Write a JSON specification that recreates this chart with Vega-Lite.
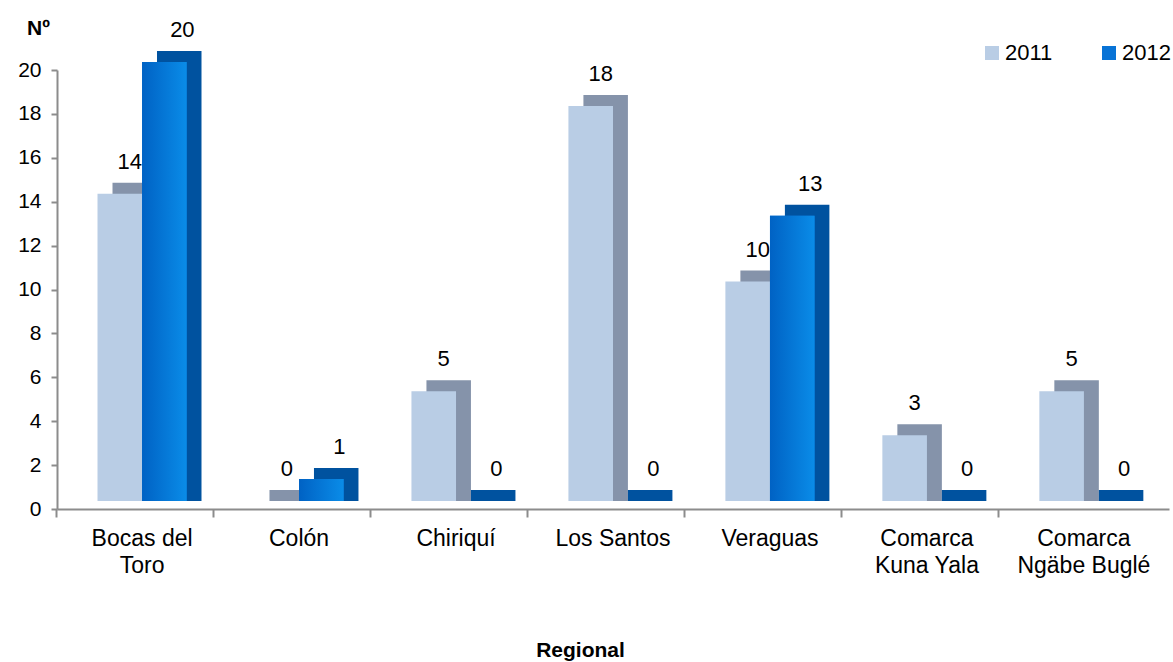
{
  "$schema": "https://vega.github.io/schema/vega-lite/v6.json",
  "autosize": {"type": "none"},
  "width": 1112,
  "height": 439,
  "padding": {"left": 57, "top": 70, "right": 4, "bottom": 153},
  "background": "white",
  "config": {
    "font": "Liberation Sans",
    "view": {"stroke": null}
  },
  "data": {
    "values": [
      {"region": "Bocas del Toro", "year": "2011", "value": 14},
      {"region": "Bocas del Toro", "year": "2012", "value": 20},
      {"region": "Colón", "year": "2011", "value": 0},
      {"region": "Colón", "year": "2012", "value": 1},
      {"region": "Chiriquí", "year": "2011", "value": 5},
      {"region": "Chiriquí", "year": "2012", "value": 0},
      {"region": "Los Santos", "year": "2011", "value": 18},
      {"region": "Los Santos", "year": "2012", "value": 0},
      {"region": "Veraguas", "year": "2011", "value": 10},
      {"region": "Veraguas", "year": "2012", "value": 13},
      {"region": "Comarca Kuna Yala", "year": "2011", "value": 3},
      {"region": "Comarca Kuna Yala", "year": "2012", "value": 0},
      {"region": "Comarca Ngäbe Buglé", "year": "2011", "value": 5},
      {"region": "Comarca Ngäbe Buglé", "year": "2012", "value": 0}
    ]
  },
  "resolve": {"scale": {"xOffset": "independent"}},
  "encoding": {
    "x": {
      "field": "region",
      "type": "nominal",
      "sort": null,
      "scale": {"paddingInner": 0.432, "paddingOuter": 0.258},
      "axis": {
        "title": "Regional",
        "titleFont": "Liberation Sans",
        "titleFontSize": 21,
        "titleFontWeight": "bold",
        "titleColor": "black",
        "titleX": 523,
        "titleY": 141,
        "titleBaseline": "middle",
        "titleAnchor": null,
        "labelAngle": 0,
        "labelFontSize": 23,
        "labelColor": "black",
        "labelPadding": 10,
        "labelLineHeight": 27,
        "labelExpr": "datum.label == 'Bocas del Toro' ? ['Bocas del', 'Toro'] : datum.label == 'Comarca Kuna Yala' ? ['Comarca', 'Kuna Yala'] : datum.label == 'Comarca Ngäbe Buglé' ? ['Comarca', 'Ngäbe Buglé'] : datum.label",
        "domainColor": "#8C8C8C",
        "domainWidth": 2,
        "tickColor": "#8C8C8C",
        "tickWidth": 2,
        "tickSize": 8,
        "bandPosition": -0.455
      }
    },
    "xOffset": {"field": "year", "type": "nominal", "scale": {"domain": ["2011", "2012"]}},
    "y": {
      "field": "value",
      "type": "quantitative",
      "stack": null,
      "scale": {"domain": [0, 20], "nice": false},
      "axis": {
        "title": "Nº",
        "titleAngle": 0,
        "titleFont": "Liberation Sans",
        "titleFontSize": 21,
        "titleFontWeight": "bold",
        "titleColor": "black",
        "titleX": -19,
        "titleY": -42,
        "titleAlign": "center",
        "titleBaseline": "middle",
        "values": [0, 2, 4, 6, 8, 10, 12, 14, 16, 18, 20],
        "labelFontSize": 21,
        "labelColor": "black",
        "labelPadding": 10,
        "grid": false,
        "domainColor": "#8C8C8C",
        "domainWidth": 2,
        "tickColor": "#8C8C8C",
        "tickWidth": 2,
        "tickSize": 6
      }
    }
  },
  "layer": [
    {
      "mark": {"type": "bar", "yOffset": -19, "y2Offset": -8},
      "encoding": {
        "xOffset": {"field": "year", "type": "nominal", "scale": {"domain": ["2011", "2012"], "range": [15, 104]}},
        "y2": {"datum": 0},
        "color": {
          "condition": {"test": "datum.year == '2011'", "value": "#8593AA"},
          "value": "#00529F"
        }
      }
    },
    {
      "mark": {"type": "bar", "yOffset": -8, "y2Offset": -8},
      "encoding": {
        "y2": {"datum": 0},
        "color": {
          "field": "year",
          "type": "nominal",
          "scale": {"domain": ["2011", "2012"], "range": ["#B9CDE5", "#0873D6"]},
          "legend": {
            "title": null,
            "orient": "none",
            "direction": "horizontal",
            "legendX": 924,
            "legendY": -28,
            "symbolType": "square",
            "symbolSize": 196,
            "symbolStrokeWidth": 0,
            "labelFontSize": 22,
            "labelColor": "black",
            "labelOffset": 2,
            "columnPadding": 45
          }
        }
      }
    },
    {
      "transform": [{"filter": "datum.year == '2012'"}],
      "mark": {
        "type": "bar",
        "yOffset": -8,
        "y2Offset": -8,
        "color": {
          "gradient": "linear",
          "x1": 0, "x2": 1, "y1": 0, "y2": 0,
          "stops": [
            {"offset": 0, "color": "#0062C4"},
            {"offset": 1, "color": "#0A8CE8"}
          ]
        }
      },
      "encoding": {"y2": {"datum": 0}}
    },
    {
      "transform": [{"filter": "datum.year == '2011'"}],
      "mark": {"type": "text", "baseline": "middle", "dy": -40, "dx": 10, "fontSize": 22, "color": "black"},
      "encoding": {"text": {"field": "value", "type": "quantitative"}}
    },
    {
      "transform": [{"filter": "datum.year == '2012'"}],
      "mark": {"type": "text", "baseline": "middle", "dy": -40, "dx": 18, "fontSize": 22, "color": "black"},
      "encoding": {"text": {"field": "value", "type": "quantitative"}}
    }
  ]
}
